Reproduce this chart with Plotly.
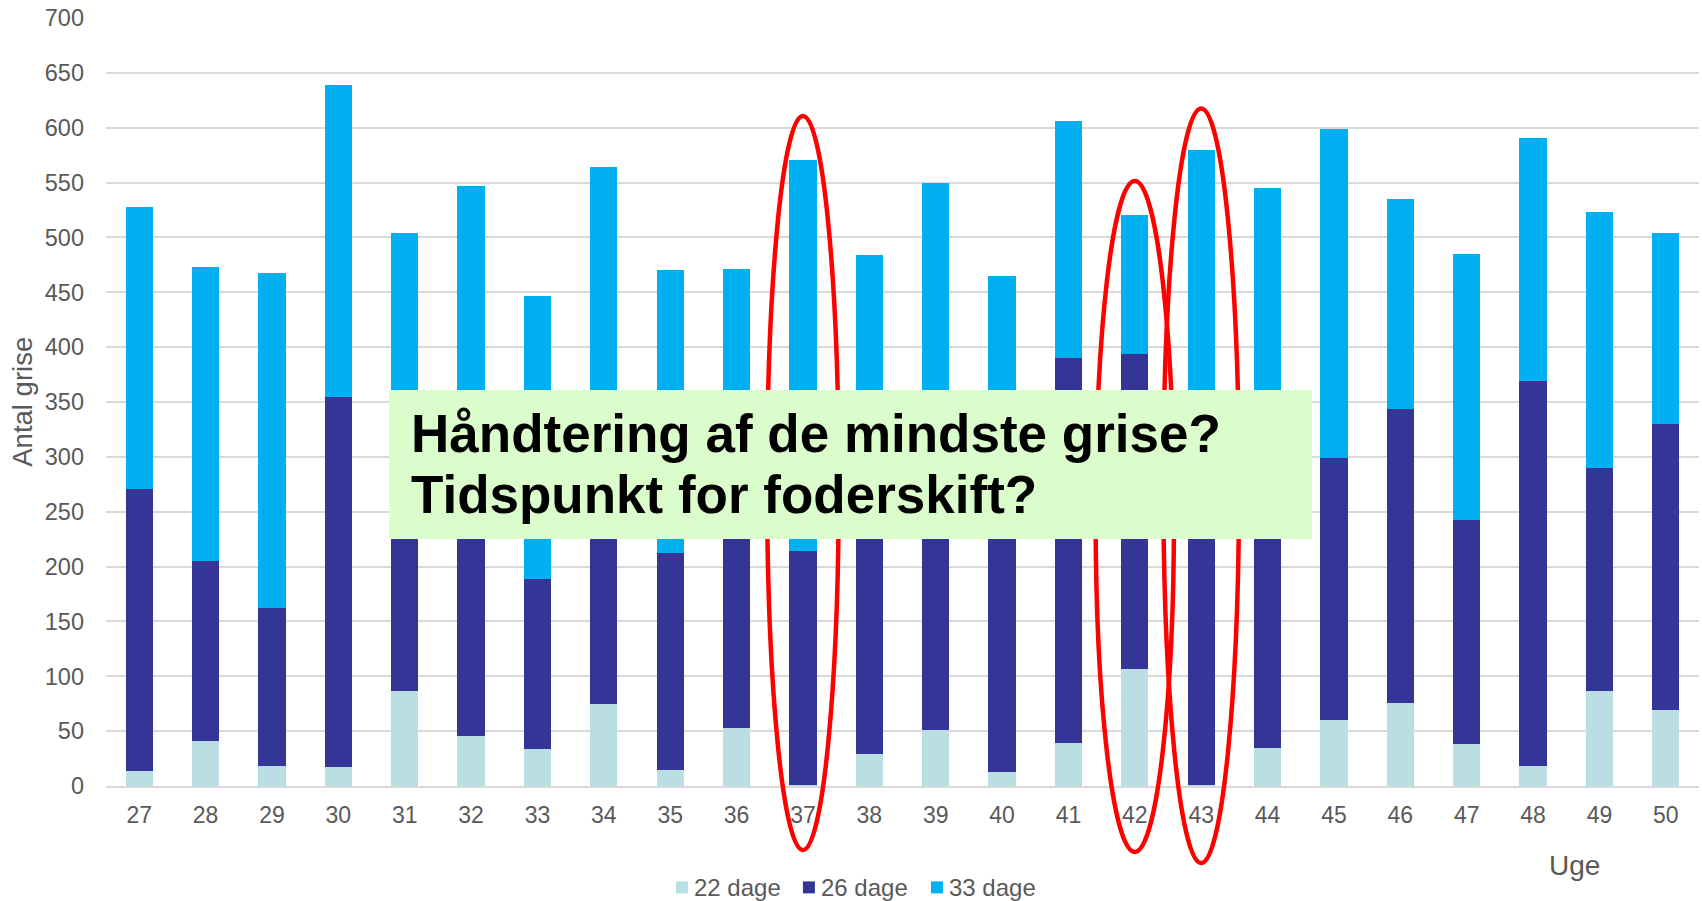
import plotly.graph_objects as go

weeks = ["27", "28", "29", "30", "31", "32", "33", "34", "35", "36", "37", "38",
         "39", "40", "41", "42", "43", "44", "45", "46", "47", "48", "49", "50"]
dage22 = [14, 41, 18, 17, 87, 46, 34, 75, 15, 53, 1, 29,
          51, 13, 39, 107, 1, 35, 60, 76, 38, 18, 87, 69]
dage26 = [257, 164, 144, 338, 213, 264, 155, 245, 197, 237, 213, 271,
          269, 287, 351, 287, 329, 275, 239, 268, 204, 351, 203, 261]
dage33 = [257, 268, 306, 284, 204, 237, 258, 244, 258, 181, 357, 184,
          230, 165, 216, 126, 250, 235, 300, 191, 243, 222, 233, 174]
series_names = ["22 dage", "26 dage", "33 dage"]
colors = ["#B9DFE3", "#353597", "#00B0F0"]

highlight_weeks = ["37", "42", "43"]
highlight_halfwidth = [0.54, 0.59, 0.57]
highlight_top = [0.8724, 0.7878, 0.8822]
highlight_bottom = [-0.0833, -0.0859, -0.1003]

question_lines = ["Håndtering af de mindste grise?", "Tidspunkt for foderskift?"]

# legend entry positions (paper coords): swatch left edges
legend_swatch_x = [0.3578, 0.4375, 0.5179]
legend_swatch_w = 0.0075
legend_text_gap = 0.0025
legend_y = -0.1320
legend_swatch_h = 0.0156

FONT = "Arial, 'Liberation Sans', sans-serif"
GREY = "#595959"

fig = go.Figure()
for name, vals, col in zip(series_names, [dage22, dage26, dage33], colors):
    fig.add_trace(go.Bar(x=weeks, y=vals, name=name, marker_color=col,
                         marker_line_width=0))

shapes = []
for wk, hw, yt, yb in zip(highlight_weeks, highlight_halfwidth, highlight_top, highlight_bottom):
    i = weeks.index(wk)
    shapes.append(dict(type="circle", xref="x", yref="paper",
                       x0=i - hw, x1=i + hw, y0=yb, y1=yt,
                       line=dict(color="#FF0000", width=4.5), layer="above"))
shapes.append(dict(type="rect", xref="paper", yref="paper",
                   x0=0.1777, x1=0.7571, y0=0.3216, y1=0.5156,
                   fillcolor="#DAFDCB", line=dict(width=0), layer="above"))

annotations = [
    dict(text=question_lines[0], xref="paper", yref="paper", x=0.1905, y=0.4590,
         xanchor="left", yanchor="middle", showarrow=False,
         font=dict(family=FONT, size=53, color="#000000", weight="bold")),
    dict(text=question_lines[1], xref="paper", yref="paper", x=0.1905, y=0.3800,
         xanchor="left", yanchor="middle", showarrow=False,
         font=dict(family=FONT, size=53, color="#000000", weight="bold")),
    dict(text="Antal grise", xref="paper", yref="paper", x=-0.0529, y=0.5,
         xanchor="center", yanchor="middle", textangle=-90, showarrow=False,
         font=dict(family=FONT, size=27.5, color=GREY)),
    dict(text="Uge", xref="paper", yref="paper", x=0.9218, y=-0.1029,
         xanchor="center", yanchor="middle", showarrow=False,
         font=dict(family=FONT, size=28, color=GREY)),
]

# legend drawn as swatches + text
for name, col, sx in zip(series_names, colors, legend_swatch_x):
    shapes.append(dict(type="rect", xref="paper", yref="paper",
                       x0=sx, x1=sx + legend_swatch_w,
                       y0=legend_y - legend_swatch_h / 2, y1=legend_y + legend_swatch_h / 2,
                       fillcolor=col, line=dict(width=0), layer="above"))
    annotations.append(dict(text=name, xref="paper", yref="paper",
                            x=sx + legend_swatch_w + legend_text_gap, y=legend_y,
                            xanchor="left", yanchor="middle", showarrow=False,
                            font=dict(family=FONT, size=24, color=GREY)))

fig.update_layout(
    width=1702, height=901,
    margin=dict(l=106, r=3, t=18, b=115),
    paper_bgcolor="white", plot_bgcolor="white",
    barmode="stack", bargap=0.59,
    font=dict(family=FONT, size=24, color=GREY),
    showlegend=False,
    shapes=shapes,
    annotations=annotations,
)
fig.update_xaxes(type="category", showgrid=False, showline=True, linecolor="#D9D9D9",
                 linewidth=1.5, ticks="", tickfont=dict(size=23, color=GREY),
                 ticklabelstandoff=8)
fig.update_yaxes(range=[0, 700], dtick=50, showgrid=True, gridcolor="#D9D9D9",
                 gridwidth=1.5, zeroline=False, ticks="",
                 tickfont=dict(size=23.5, color=GREY), ticklabelstandoff=21,
                 ticklabeloverflow="allow")

fig.write_html("out.html", config={"displayModeBar": False},
               post_script="document.body.style.margin='0px';")
